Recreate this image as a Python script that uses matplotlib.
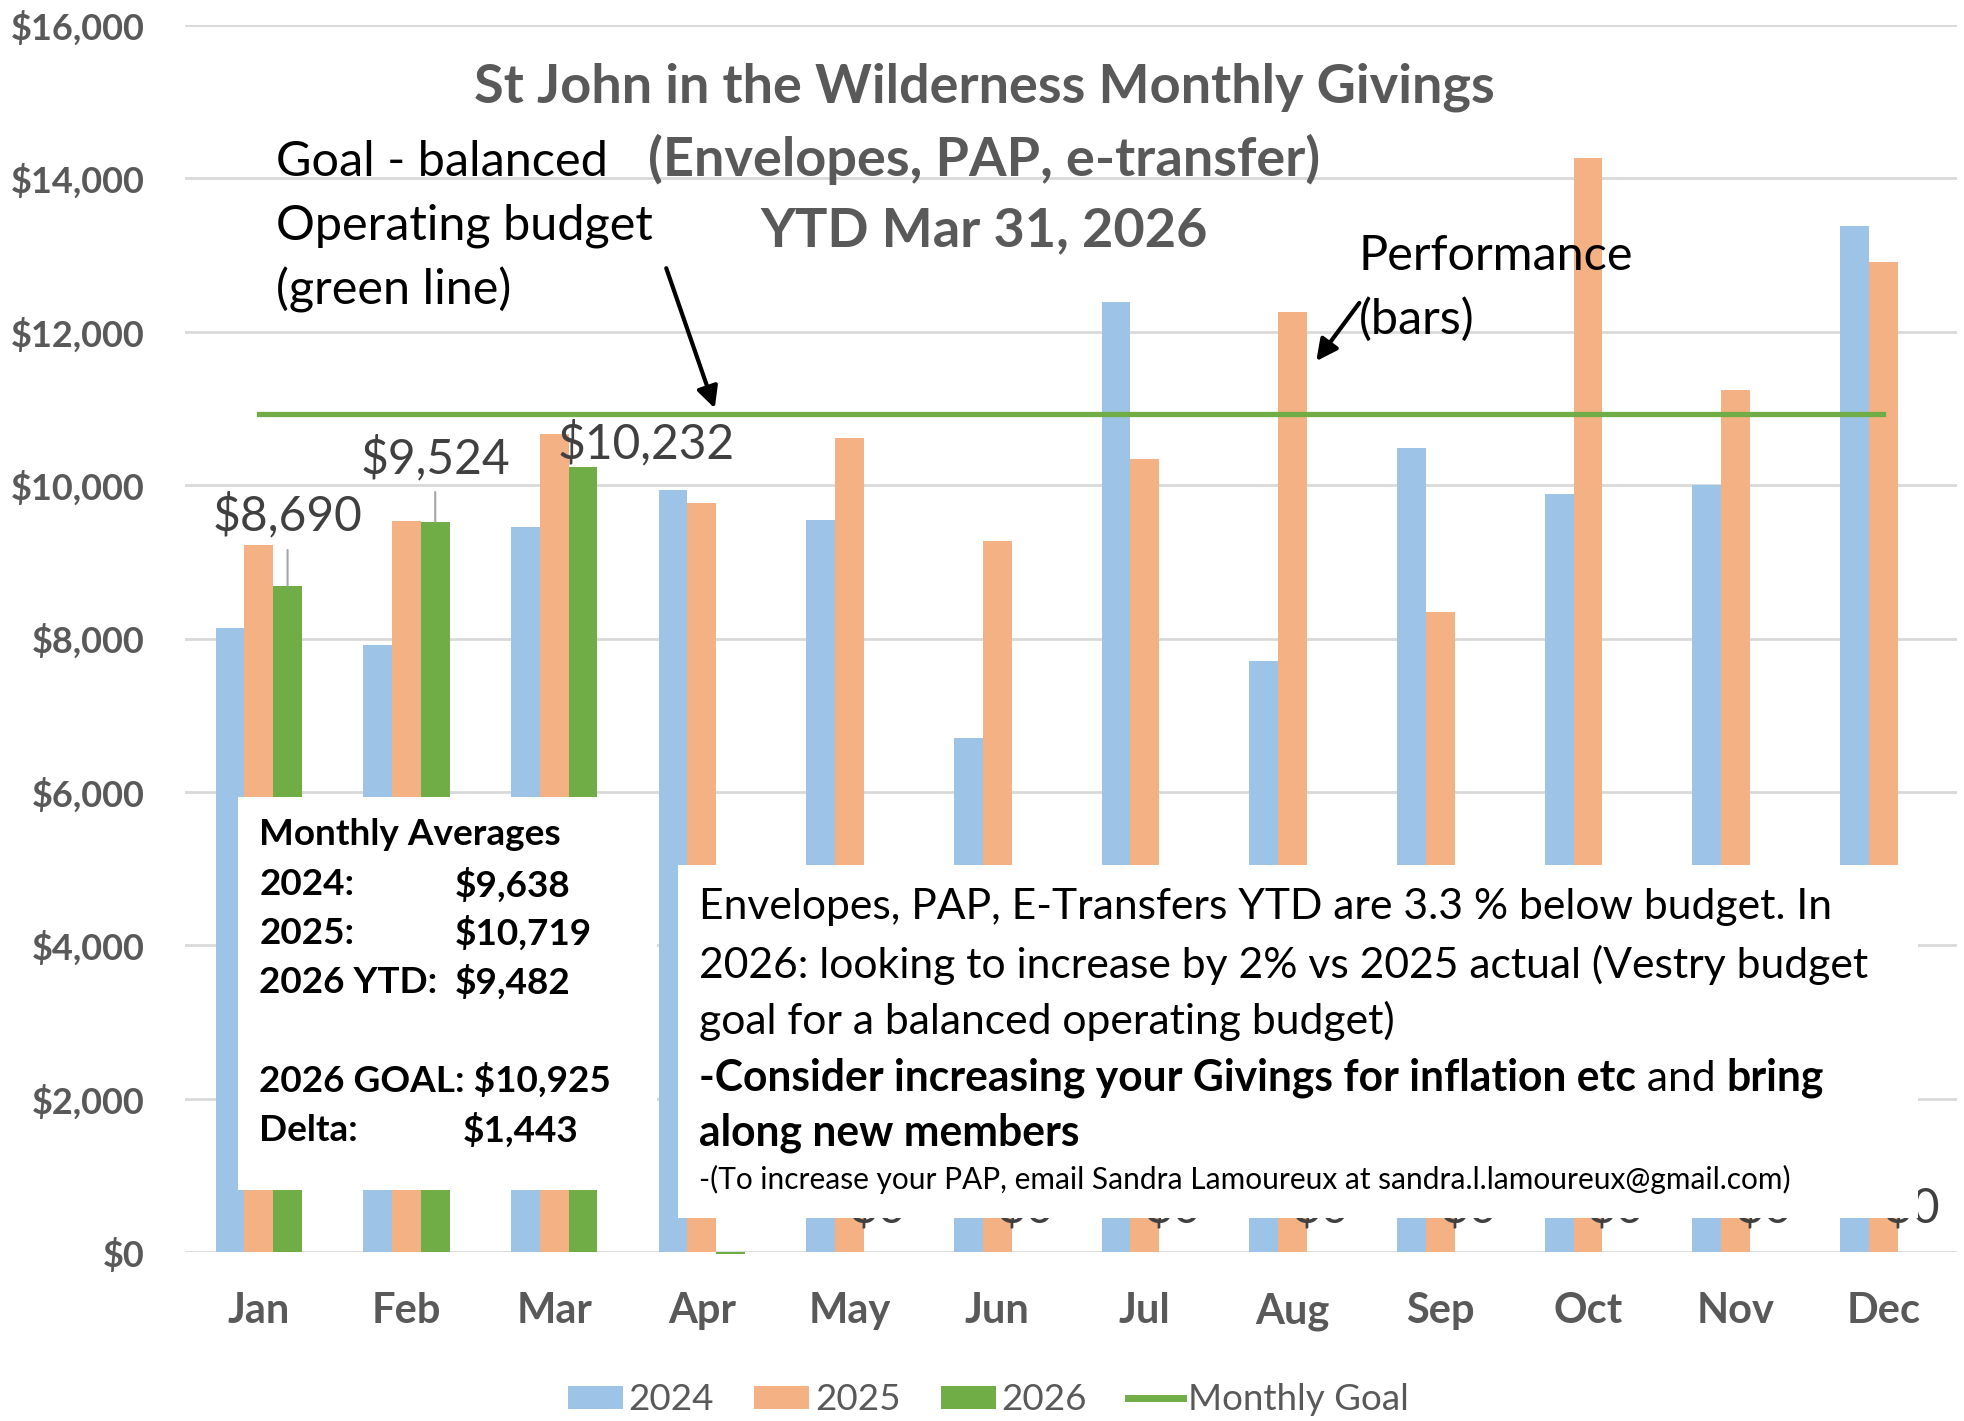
import numpy as np
import matplotlib.pyplot as plt
from matplotlib.patches import Rectangle, FancyArrowPatch

# monthly givings
months = ['Jan', 'Feb', 'Mar', 'Apr', 'May', 'Jun', 'Jul', 'Aug', 'Sep', 'Oct', 'Nov', 'Dec']
g2024 = [8140, 7910, 9450, 9940, 9540, 6700, 12390, 7710, 10480, 9890, 10000, 13380]
g2025 = [9220, 9530, 10670, 9770, 10610, 9270, 10340, 12260, 8350, 14270, 11240, 12910]
g2026 = [8690, 9524, 10232, -25, 0, 0, 0, 0, 0, 0, 0, 0]
monthly_goal = 10925

avg_names = ['2024:', '2025:', '2026 YTD:']
avg_values = ['$9,638', '$10,719', '$9,482']
goal_line = '2026 GOAL: $10,925'
delta_name, delta_value = 'Delta:', '$1,443'

title_lines = ['St John in the Wilderness Monthly Givings',
               '(Envelopes, PAP, e-transfer)',
               'YTD Mar 31, 2026']

c24, c25, c26 = '#9DC3E6', '#F4B183', '#70AD47'
gray = '#595959'

plt.rcParams['font.family'] = ['Lato', 'DejaVu Sans']

fig = plt.figure(figsize=(19.65, 14.21), dpi=100)
ax = fig.add_axes([0.0941, 0.1189, 0.9019, 0.8635])

x = np.arange(len(months))
w = 0.195
b24 = ax.bar(x - w, g2024, w, color=c24, label='2024', zorder=2, clip_on=False)
b25 = ax.bar(x, g2025, w, color=c25, label='2025', zorder=2, clip_on=False)
b26 = ax.bar(x + w, g2026, w, color=c26, label='2026', zorder=2, clip_on=False)
ln, = ax.plot(x, [monthly_goal] * len(x), color=c26, lw=3.8, label='Monthly Goal', zorder=3)

ax.set_xlim(-0.5, 11.5)
ax.set_ylim(0, 16000)
ax.set_yticks(np.arange(0, 16001, 2000))
ax.set_yticklabels(['${:,.0f}'.format(v) for v in np.arange(0, 16001, 2000)])
ax.set_xticks(x)
ax.set_xticklabels(months)
ax.tick_params(axis='y', length=0, pad=29, labelsize=26, labelcolor=gray)
ax.tick_params(axis='x', length=0, pad=29, labelsize=30, labelcolor=gray)
for lab in ax.get_xticklabels() + ax.get_yticklabels():
    lab.set_fontweight('bold')
for s in ax.spines.values():
    s.set_visible(False)
ax.grid(axis='y', color='#d9d9d9', lw=2)
ax.set_axisbelow(True)

# data labels for 2026
lab_offsets = [(0, 70), (0, 64), (63, 24)]
for i, v in enumerate(g2026):
    if v < 0:
        continue
    txt = '${:,.0f}'.format(v)
    if i < 3:
        dx, dy = lab_offsets[i]
        arrow = dict(arrowstyle='-', color='#a6a6a6', lw=1.5, shrinkA=6, shrinkB=0) if i < 2 else None
        ax.annotate(txt, xy=(x[i] + w, v), xytext=(dx, dy), textcoords='offset pixels',
                    ha='center', va='center', fontsize=34.5, color='#404040',
                    arrowprops=arrow, zorder=4)
    else:
        ax.annotate(txt, xy=(x[i] + w, v), xytext=(0, 44), textcoords='offset pixels',
                    ha='center', va='center', fontsize=34.5, color='#404040', zorder=4)

# white text boxes covering part of the bars
tf = fig.transFigure
ax.add_patch(Rectangle((0.1212, 0.1623), 0.3342 - 0.1212, 0.4392 - 0.1623, transform=tf,
                       facecolor='white', edgecolor='none', zorder=5, clip_on=False))
ax.add_patch(Rectangle((0.3450, 0.1429), 0.9762 - 0.3450, 0.3915 - 0.1429, transform=tf,
                       facecolor='white', edgecolor='none', zorder=5, clip_on=False))

# title
for yy, t in zip([0.9383, 0.8880, 0.8377], title_lines):
    ax.text(0.501, yy, t, transform=tf, ha='center', va='center', fontsize=39,
            fontweight='bold', color=gray, zorder=6)

# goal / performance notes
for yy, t in zip([0.8862, 0.8413, 0.7963], ['Goal - balanced', 'Operating budget', '(green line)']):
    ax.text(0.1403, yy, t, transform=tf, ha='left', va='center', fontsize=35, color='black', zorder=6)
for yy, t in zip([0.8201, 0.7751], ['Performance', '(bars)']):
    ax.text(0.6913, yy, t, transform=tf, ha='left', va='center', fontsize=35, color='black', zorder=6)

for a, b in [((0.3386, 0.8131), (0.3642, 0.7108)), ((0.6926, 0.7884), (0.6690, 0.7443))]:
    ax.add_patch(FancyArrowPatch(a, b, transform=tf, arrowstyle='-|>', mutation_scale=32,
                                 color='black', lw=3, zorder=6, clip_on=False))

# monthly averages box
fs_box = 26.6
box_ys = [0.4127, 0.3774, 0.3430, 0.3086]
ax.text(0.1320, box_ys[0], 'Monthly Averages', transform=tf, ha='left', va='center',
        fontsize=fs_box, fontweight='bold', zorder=6)
for yy, n, v in zip(box_ys[1:], avg_names, avg_values):
    ax.text(0.1320, yy, n, transform=tf, ha='left', va='center', fontsize=fs_box, fontweight='bold', zorder=6)
    ax.text(0.2315, yy, v, transform=tf, ha='left', va='center', fontsize=fs_box, fontweight='bold', zorder=6)
ax.text(0.1320, 0.2399, goal_line, transform=tf, ha='left', va='center', fontsize=fs_box,
        fontweight='bold', zorder=6)
ax.text(0.1320, 0.2046, delta_name, transform=tf, ha='left', va='center', fontsize=fs_box,
        fontweight='bold', zorder=6)
ax.text(0.2353, 0.2046, delta_value, transform=tf, ha='left', va='center', fontsize=fs_box,
        fontweight='bold', zorder=6)

# budget note box
fs_note = 30.7
note_lines = ['Envelopes, PAP, E-Transfers YTD are 3.3 % below budget. In',
              '2026: looking to increase by 2% vs 2025 actual (Vestry budget',
              'goal for a balanced operating budget)']
for yy, t in zip([0.3616, 0.3210, 0.2813], note_lines):
    ax.text(0.3559, yy, t, transform=tf, ha='left', va='center', fontsize=fs_note, zorder=6)
t1 = ax.text(0.3559, 0.2416, '-Consider increasing your Givings for inflation etc', transform=tf,
             ha='left', va='center', fontsize=fs_note, fontweight='bold', zorder=6)
t2 = ax.annotate(' and ', xy=(1, 0), xycoords=t1, ha='left', va='bottom', fontsize=fs_note, zorder=6)
ax.annotate('bring', xy=(1, 0), xycoords=t2, ha='left', va='bottom', fontsize=fs_note,
            fontweight='bold', zorder=6)
ax.text(0.3559, 0.2028, 'along new members', transform=tf, ha='left', va='center', fontsize=fs_note,
        fontweight='bold', zorder=6)
ax.text(0.3559, 0.1702, '-(To increase your PAP, email Sandra Lamoureux at sandra.l.lamoureux@gmail.com)',
        transform=tf, ha='left', va='center', fontsize=21.5, zorder=6)

leg = fig.legend(handles=[b24, b25, b26, ln], loc='center', bbox_to_anchor=(0.503, 0.0148),
                 ncol=4, frameon=False, fontsize=26.5, handlelength=1.5, handleheight=0.6,
                 handletextpad=0.15, columnspacing=1.1)
for t in leg.get_texts():
    t.set_color(gray)
leg.get_lines()[0].set_linewidth(5)

fig.savefig('out.png', dpi=100)
